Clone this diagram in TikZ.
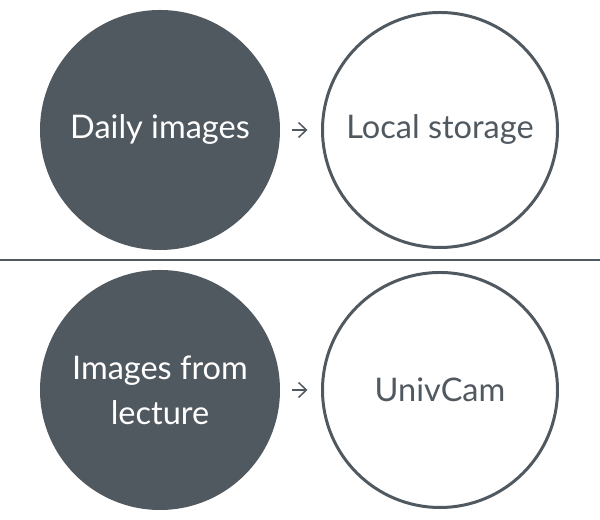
\documentclass[tikz,border=0pt]{standalone}
\usepackage{fontspec}
\setmainfont{Lato}
\usetikzlibrary{arrows.meta}
\definecolor{slate}{RGB}{80,88,96}
\begin{document}
\begin{tikzpicture}[font=\fontsize{18.5}{25.6}\selectfont,
  src/.style={circle, fill=slate, text=white, minimum size=4.8cm, inner sep=0pt, align=center},
  dst/.style={circle, draw=slate, line width=1.7pt, fill=white, text=slate, minimum size=4.7cm, inner sep=0pt, align=center},
  flow/.style={-{Straight Barb[length=4.5pt, width=8.5pt]}, draw=slate, line width=0.85pt, shorten <=0.23cm, shorten >=0.27cm}]
\useasboundingbox (0,0) rectangle (12,10.4);
% top row: daily images
\node[src] (daily) at (3.2,7.8) {Daily images};
\node[dst] (local) at (8.8,7.8) {Local storage};
\draw[flow] (daily) -- (local);
% divider across the page
\coordinate (divl) at (0,5.2);
\coordinate (divr) at (12,5.2);
\draw[slate, line width=1.1pt] (divl) -- (divr);
% bottom row: lecture images
\node[src] (lecture) at (3.2,2.6) {Images from\\lecture};
\node[dst] (univcam) at (8.8,2.6) {UnivCam};
\draw[flow] (lecture) -- (univcam);
\end{tikzpicture}
\end{document}
